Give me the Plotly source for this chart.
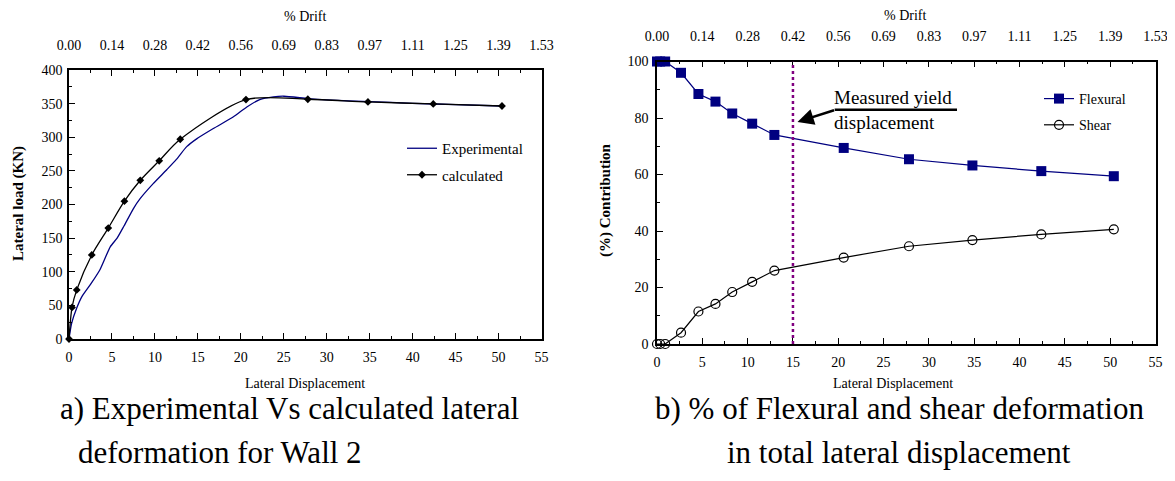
import plotly.graph_objects as go

# ---------------- data ----------------
disp = [0, 0.35, 0.9, 2.65, 4.57, 6.45, 8.3, 10.5, 12.95, 20.6, 27.8, 34.8, 42.4, 50.4]
calc_load = [0, 47, 73, 125, 165, 205, 236, 265, 297, 356, 356.5, 352.5, 349.5, 346.5]

exp_disp = [0, 0.3, 0.9, 1.5, 2.6, 3.6, 4.8, 5.6, 6.4, 7.5, 8.3, 9.8, 11.4, 12.5, 13.7,
            14.9, 16.8, 19.1, 20.7, 22.2, 23.8, 25.0, 27.8, 30, 35, 40, 45, 50.4]
exp_load = [0, 23, 46, 63, 83, 103, 137, 150, 168, 194, 209, 231, 252, 267, 286,
            298, 313, 330, 345, 356, 360, 361, 357.5, 355.5, 353, 350.5, 348.5, 346.5]

flexural = [100, 100, 100, 96, 88.5, 85.8, 81.6, 78, 74, 69.4, 65.4, 63.2, 61.2, 59.4]
shear = [0, 0, 0, 4, 11.5, 14.2, 18.4, 22, 26, 30.6, 34.6, 36.8, 38.8, 40.6]

disp_ticks = [0, 5, 10, 15, 20, 25, 30, 35, 40, 45, 50, 55]
drift_labels = ["0.00", "0.14", "0.28", "0.42", "0.56", "0.69", "0.83", "0.97",
                "1.11", "1.25", "1.39", "1.53"]
yield_disp = 15

W, H = 1175, 481
OFF = 8  # page body margin
SERIF = "Liberation Serif, Times New Roman, serif"
NAVY = "#000080"


def px(x):
    return (x - OFF) / W


def py(y):
    return 1 - (y - OFF) / H


fig = go.Figure()

# left chart
fig.add_trace(go.Scatter(x=exp_disp, y=exp_load, mode="lines", name="Experimental",
                         legendgroup="e",
                         line=dict(color=NAVY, width=1.3, shape="spline", smoothing=0.6),
                         xaxis="x", yaxis="y", legend="legend", cliponaxis=False))
fig.add_trace(go.Scatter(x=disp, y=calc_load, mode="lines+markers", name="calculated",
                         legendgroup="c",
                         line=dict(color="black", width=1.3, shape="spline", smoothing=0.8),
                         marker=dict(symbol="diamond", size=6, color="black"),
                         xaxis="x", yaxis="y", legend="legend", cliponaxis=False))

# right chart
fig.add_trace(go.Scatter(x=disp, y=flexural, mode="lines+markers", name="Flexural",
                         legendgroup="f",
                         line=dict(color=NAVY, width=1.2),
                         marker=dict(symbol="square", size=10, color=NAVY),
                         xaxis="x2", yaxis="y2", legend="legend2", cliponaxis=False))
fig.add_trace(go.Scatter(x=disp, y=shear, mode="lines+markers", name="Shear",
                         legendgroup="s",
                         line=dict(color="black", width=1.2),
                         marker=dict(symbol="circle-open", size=9, color="black",
                                     line=dict(width=1.2)),
                         xaxis="x2", yaxis="y2", legend="legend2", cliponaxis=False))

# invisible traces so the top (drift) axes render
fig.add_trace(go.Scatter(x=[None], y=[None], xaxis="x3", yaxis="y", showlegend=False,
                         hoverinfo="skip"))
fig.add_trace(go.Scatter(x=[None], y=[None], xaxis="x4", yaxis="y2", showlegend=False,
                         hoverinfo="skip"))

tickfont = dict(family=SERIF, size=14, color="black")
axcommon = dict(showgrid=False, zeroline=False, showline=True, linecolor="black",
                linewidth=1.5, ticks="inside", tickcolor="black", ticklen=6,
                tickfont=tickfont, automargin=False)

dom_l = [px(69), px(541.5)]
dom_r = [px(657), px(1155.5)]
ydom_l = [py(339), py(70)]
ydom_r = [py(344), py(61.5)]

xminor = dict(ticks="inside", dtick=2.5, tick0=0, ticklen=3, tickcolor="black")
xbottom = dict(axcommon, range=[0, 55], tickvals=disp_ticks, ticklabelstandoff=4,
               minor=xminor)

fig.update_layout(
    width=W, height=H,
    autosize=False,
    margin=dict(l=0, r=0, t=0, b=0, pad=0),
    paper_bgcolor="white", plot_bgcolor="white",
    font=dict(family=SERIF, color="black"),
    xaxis=dict(xbottom, domain=dom_l, anchor="y"),
    yaxis=dict(axcommon, domain=ydom_l, anchor="x", range=[0, 400], dtick=50,
               mirror=True, ticklabelstandoff=2,
               minor=dict(ticks="inside", dtick=25, ticklen=3, tickcolor="black")),
    xaxis3=dict(axcommon, overlaying="x", anchor="y", side="top", range=[0, 55],
                tickvals=disp_ticks, ticktext=drift_labels, ticklabelstandoff=13,
                minor=xminor),
    xaxis2=dict(xbottom, domain=dom_r, anchor="y2"),
    yaxis2=dict(axcommon, domain=ydom_r, anchor="x2", range=[0, 100], dtick=20,
                mirror=True, ticklabelstandoff=4,
                minor=dict(ticks="inside", dtick=10, ticklen=3, tickcolor="black")),
    xaxis4=dict(axcommon, overlaying="x2", anchor="y2", side="top", range=[0, 55],
                tickvals=disp_ticks, ticktext=drift_labels, ticklabelstandoff=13,
                minor=xminor),
    legend=dict(x=px(402), y=py(132), xanchor="left", yanchor="top",
                bgcolor="rgba(0,0,0,0)", font=dict(family=SERIF, size=15),
                itemwidth=30, tracegroupgap=4),
    legend2=dict(x=px(1039), y=py(83), xanchor="left", yanchor="top",
                 bgcolor="rgba(0,0,0,0)", font=dict(family=SERIF, size=14),
                 itemwidth=30, tracegroupgap=5),
    showlegend=True,
)

# yield line
fig.add_shape(type="line", xref="x2", yref="y2", x0=yield_disp, x1=yield_disp, y0=0, y1=100,
              line=dict(color="#800080", width=2.5, dash="dot"))
# leader line under annotation
fig.add_shape(type="line", xref="x2", yref="y2", x0=19.6, x1=33.1, y0=82.9, y1=82.9,
              line=dict(color="black", width=2.5))

ann = []
ann.append(dict(x=15.5, y=78.6, xref="x2", yref="y2", ax=19.7, ay=82.9,
                axref="x2", ayref="y2", text="", showarrow=True, arrowhead=2,
                arrowsize=1.3, arrowwidth=2.5, arrowcolor="black"))
ann.append(dict(x=19.3, y=(344 - 110) / 2.823, xref="x2", yref="y2", xanchor="left",
                yanchor="middle", align="left", showarrow=False,
                text="Measured yield<br>displacement",
                font=dict(family=SERIF, size=19)))


def label(x, y, text, size, angle=0, xanchor="center"):
    return dict(x=px(x), y=py(y), xref="paper", yref="paper", text=text,
                xanchor=xanchor, yanchor="middle", textangle=angle,
                showarrow=False, font=dict(family=SERIF, size=size))


# axis titles
ann.append(label(305, 17, "% Drift", 14))
ann.append(label(905, 15, "% Drift", 14))
ann.append(label(305, 383, "Lateral Displacement", 14))
ann.append(label(893, 383, "Lateral Displacement", 14))
ann.append(label(18, 204, "<b>Lateral load (KN)</b>", 15, angle=-90))
ann.append(label(605, 200, "<b>(%) Contribution</b>", 15, angle=-90))

# captions
CAP = 31
ann.append(label(289, 408, "a) Experimental Vs calculated lateral", CAP))
ann.append(label(76, 452, "deformation for Wall 2", CAP, xanchor="left"))
ann.append(label(899, 408, "b) % of Flexural and shear deformation", CAP))
ann.append(label(899, 452, "in total lateral displacement", CAP))

fig.update_layout(annotations=ann)

fig.write_html("out.html")
